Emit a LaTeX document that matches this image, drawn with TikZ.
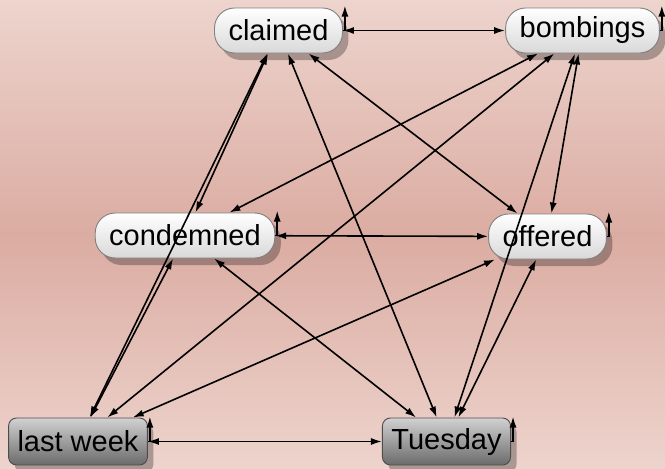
\documentclass[tikz,border=0pt]{standalone}
\usepackage{fontspec}
\setmainfont{Liberation Sans}
\usepackage{tikz}
\usetikzlibrary{arrows.meta,shadows}
\definecolor{bgedge}{RGB}{237,212,205}
\definecolor{bgmid}{RGB}{219,172,162}

\begin{document}
\begin{tikzpicture}[x=1pt,y=-1pt,
	font=\fontsize{29}{33}\selectfont,
	word/.style={draw=gray,line width=0.9pt,rounded corners=20pt,top color=white,bottom color=gray!30,
		minimum height=45pt,inner xsep=14pt,inner ysep=0pt,
		drop shadow={shadow xshift=6pt,shadow yshift=-7pt,fill=black,opacity=.28}},
	time/.style={word,rounded corners=8pt,draw=black!70,top color=black!18,bottom color=black!58,
		minimum height=47pt,inner xsep=9pt},
	link/.style={{Latex[length=11pt,width=7pt]}-{Latex[length=11pt,width=7pt]},line width=1.6pt},
	selfloop/.style={-{Latex[length=11pt,width=7pt]},line width=1.6pt}]
	\useasboundingbox (0,0) rectangle (665,469);
	\shade[top color=bgedge,bottom color=bgedge,middle color=bgmid] (0,0) rectangle (665,469);
	\node[word] (claimed) at (278.5,30.5) {claimed};
	\node[word] (bombings) at (582.5,30.5) {bombings};
	\node[word] (condemned) at (185,235.5) {condemned};
	\node[word] (offered) at (547.5,236.5) {offered};
	\node[time] (lastweek) at (78,441.5) {last week};
	\node[time] (tuesday) at (446.5,441.5) {Tuesday};
	\foreach \a/\b in {claimed/bombings,condemned/offered,lastweek/tuesday,claimed/condemned,
		claimed/offered,claimed/lastweek,claimed/tuesday,bombings/condemned,bombings/offered,
		bombings/lastweek,bombings/tuesday,condemned/lastweek,condemned/tuesday,
		offered/lastweek,offered/tuesday}
		\draw[link] (\a) -- (\b);
	\foreach \n in {claimed,bombings,condemned,offered,lastweek,tuesday}
		\draw[selfloop] (\n.east) -- ++(2,0) -- ++(0,-25);
\end{tikzpicture}
\end{document}
